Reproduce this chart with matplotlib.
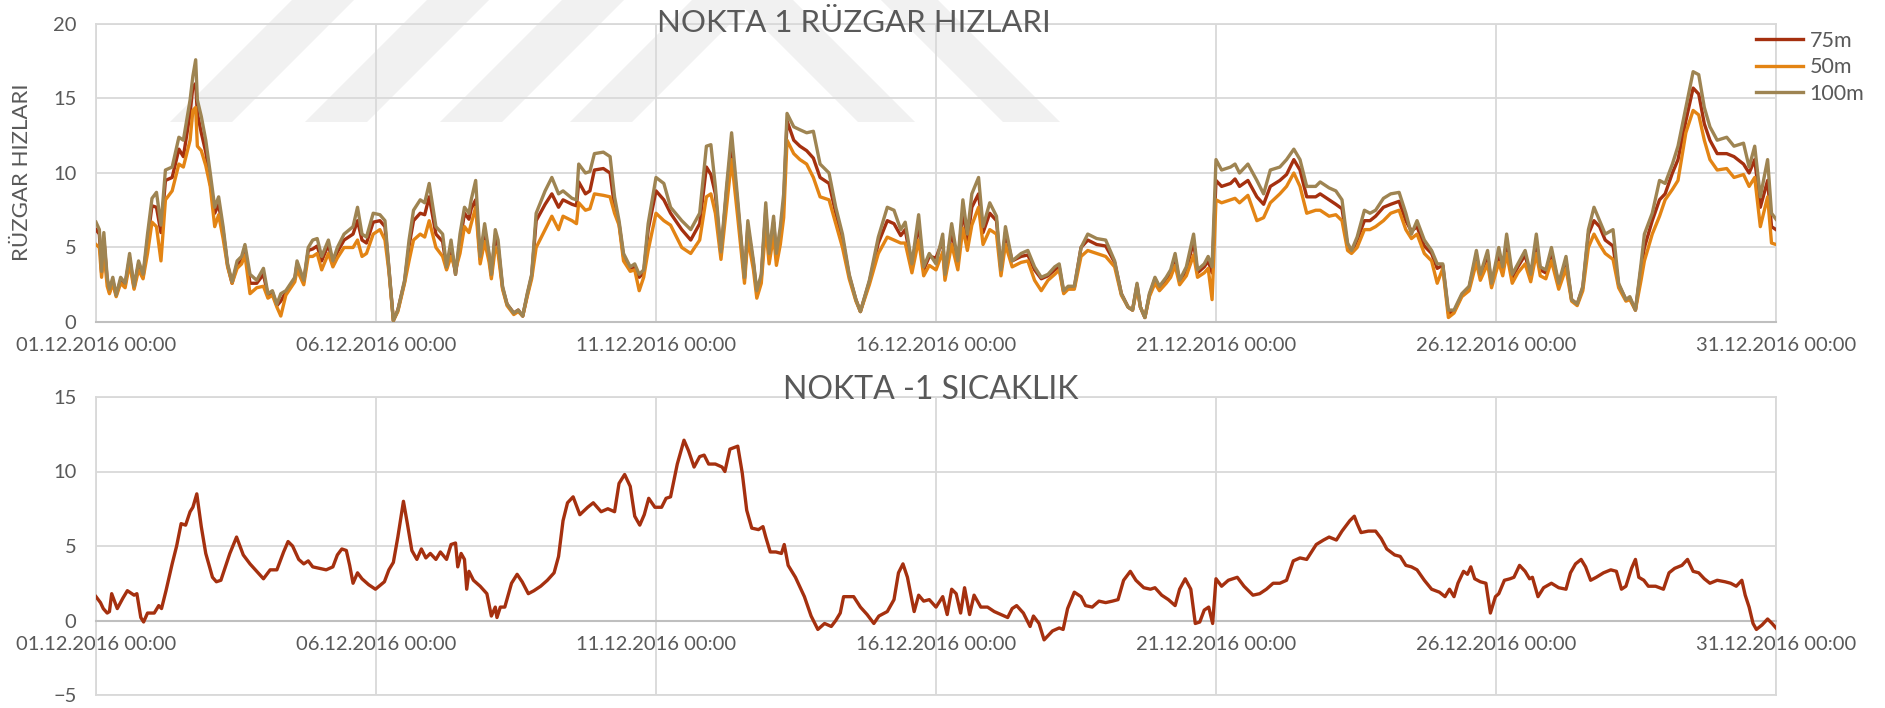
import matplotlib
matplotlib.use("Agg")
import matplotlib.pyplot as plt
from matplotlib.patches import Polygon

# ---------------- data ----------------
date_labels = ["01.12.2016 00:00", "06.12.2016 00:00", "11.12.2016 00:00",
               "16.12.2016 00:00", "21.12.2016 00:00", "26.12.2016 00:00",
               "31.12.2016 00:00"]
date_ticks = [0, 5, 10, 15, 20, 25, 30]   # days after 01.12.2016 00:00

series_names = ["75m", "50m", "100m"]

# time in days after 01.12.2016 00:00
wind_t = [0.00, 0.06, 0.10, 0.14, 0.20, 0.24, 0.30, 0.36, 0.44, 0.52, 0.60, 0.68, 0.76, 0.84, 0.92,
          1.00, 1.08, 1.16, 1.24, 1.36, 1.48, 1.56, 1.68, 1.73, 1.78, 1.81, 1.88, 1.96, 2.04, 2.12,
          2.19, 2.27, 2.35, 2.43, 2.52, 2.60, 2.66, 2.75, 2.87, 2.99, 3.07, 3.15, 3.23, 3.30, 3.39,
          3.55, 3.59, 3.71, 3.79, 3.87, 3.95, 4.03, 4.15, 4.23, 4.31, 4.43, 4.59, 4.67, 4.75, 4.83,
          4.95, 5.07, 5.16, 5.23, 5.31, 5.39, 5.51, 5.59, 5.67, 5.79, 5.87, 5.95, 6.07, 6.19, 6.26,
          6.34, 6.42, 6.50, 6.58, 6.66, 6.70, 6.78, 6.86, 6.94, 7.02, 7.06, 7.13, 7.18, 7.26, 7.34,
          7.46, 7.54, 7.62, 7.70, 7.78, 7.86, 8.02, 8.14, 8.26, 8.34, 8.50, 8.58, 8.62, 8.74, 8.82,
          8.90, 9.06, 9.18, 9.26, 9.34, 9.42, 9.54, 9.62, 9.70, 9.78, 9.86, 10.00, 10.14, 10.26, 10.46,
          10.62, 10.78, 10.90, 10.98, 11.06, 11.16, 11.26, 11.35, 11.46, 11.58, 11.64, 11.74, 11.80, 11.88, 11.96,
          12.02, 12.10, 12.15, 12.22, 12.28, 12.34, 12.46, 12.57, 12.69, 12.81, 12.93, 13.09, 13.21, 13.33, 13.45,
          13.57, 13.65, 13.81, 13.97, 14.13, 14.25, 14.37, 14.45, 14.57, 14.69, 14.78, 14.88, 15.00, 15.12, 15.16,
          15.28, 15.39, 15.48, 15.56, 15.64, 15.76, 15.84, 15.96, 16.08, 16.16, 16.24, 16.36, 16.52, 16.64, 16.76,
          16.88, 17.00, 17.12, 17.20, 17.28, 17.36, 17.47, 17.59, 17.71, 17.87, 18.03, 18.19, 18.31, 18.43, 18.51,
          18.59, 18.65, 18.73, 18.81, 18.91, 18.99, 19.11, 19.19, 19.27, 19.35, 19.47, 19.60, 19.67, 19.79, 19.86,
          19.93, 20.00, 20.10, 20.26, 20.34, 20.42, 20.57, 20.73, 20.85, 20.97, 21.14, 21.26, 21.39, 21.50, 21.62,
          21.78, 21.86, 22.02, 22.14, 22.25, 22.35, 22.42, 22.52, 22.65, 22.75, 22.85, 22.99, 23.12, 23.27, 23.39,
          23.49, 23.59, 23.72, 23.85, 23.95, 24.05, 24.15, 24.25, 24.39, 24.52, 24.65, 24.72, 24.85, 24.92, 25.05,
          25.12, 25.19, 25.29, 25.39, 25.52, 25.62, 25.72, 25.79, 25.89, 25.99, 26.12, 26.25, 26.35, 26.45, 26.55,
          26.65, 26.75, 26.85, 26.95, 27.09, 27.19, 27.32, 27.39, 27.49, 27.59, 27.65, 27.79, 27.92, 28.02, 28.15,
          28.25, 28.39, 28.52, 28.62, 28.72, 28.82, 28.95, 29.12, 29.25, 29.42, 29.52, 29.62, 29.72, 29.85, 29.92,
          30.00]

wind_100 = [6.7, 6.2, 3.4, 6.0, 3.0, 2.2, 3.0, 1.8, 3.0, 2.6, 4.6, 2.4, 4.1, 3.2, 5.9,
            8.3, 8.7, 6.5, 10.2, 10.4, 12.4, 12.2, 14.9, 16.5, 17.6, 14.9, 13.8, 12.2, 10.0, 7.7,
            8.4, 6.4, 3.9, 2.7, 4.1, 4.4, 5.2, 3.2, 2.8, 3.6, 1.9, 2.1, 1.2, 1.9, 2.1,
            3.0, 4.1, 2.8, 5.0, 5.5, 5.6, 4.4, 5.5, 4.1, 5.0, 5.9, 6.4, 7.7, 5.9, 5.7,
            7.3, 7.2, 6.8, 3.7, 0.1, 0.8, 2.8, 5.5, 7.5, 8.2, 8.0, 9.3, 6.4, 5.9, 3.7,
            5.5, 3.2, 5.9, 7.7, 7.3, 8.2, 9.5, 4.4, 6.6, 4.6, 3.2, 6.2, 5.5, 2.4, 1.2,
            0.6, 0.8, 0.4, 1.9, 3.2, 7.3, 8.8, 9.7, 8.6, 8.8, 8.3, 8.2, 10.6, 10.0, 10.1,
            11.3, 11.4, 11.1, 8.4, 6.8, 4.6, 3.7, 3.9, 3.2, 3.5, 6.6, 9.7, 9.3, 7.7, 6.8,
            6.2, 7.3, 11.8, 11.9, 9.1, 4.7, 9.1, 12.7, 8.2, 3.0, 6.8, 4.1, 2.1, 3.2, 8.0,
            4.6, 7.1, 4.6, 6.4, 8.6, 14.0, 13.1, 12.9, 12.7, 12.8, 10.6, 10.0, 7.7, 5.9, 3.2,
            1.5, 0.7, 2.8, 5.7, 7.7, 7.5, 6.2, 6.7, 3.9, 7.2, 3.7, 4.6, 3.9, 5.9, 3.2,
            6.6, 4.1, 8.2, 5.9, 8.6, 9.7, 6.4, 8.0, 7.1, 3.5, 6.4, 4.1, 4.6, 4.8, 3.7,
            3.0, 3.2, 3.7, 3.9, 2.1, 2.4, 2.4, 5.0, 5.9, 5.6, 5.5, 4.1, 1.9, 1.0, 0.8,
            2.6, 1.0, 0.3, 1.9, 3.0, 2.4, 3.0, 3.5, 4.6, 2.8, 3.7, 5.9, 3.5, 3.9, 4.4,
            3.7, 10.9, 10.2, 10.4, 10.6, 10.0, 10.6, 9.5, 8.6, 10.2, 10.4, 10.9, 11.6, 10.9, 9.1,
            9.1, 9.4, 9.0, 8.8, 8.2, 5.3, 4.8, 5.7, 7.5, 7.3, 7.5, 8.3, 8.6, 8.7, 7.3,
            5.9, 6.8, 5.5, 4.8, 3.9, 3.9, 0.8, 0.8, 1.9, 2.4, 4.8, 3.2, 4.8, 2.6, 5.0,
            3.7, 5.9, 3.2, 3.9, 4.8, 3.2, 5.9, 3.7, 3.5, 5.0, 2.6, 4.4, 1.5, 1.2, 2.4,
            6.2, 7.7, 6.8, 5.9, 6.2, 2.6, 1.5, 1.7, 0.8, 3.9, 5.9, 7.3, 9.5, 9.3, 10.6,
            11.8, 14.4, 16.8, 16.6, 14.4, 13.1, 12.2, 12.4, 11.8, 12.0, 10.4, 11.8, 8.4, 10.9, 7.3,
            6.9]

wind_75 = [6.2, 5.9, 3.3, 5.6, 2.8, 2.0, 2.8, 1.8, 2.8, 2.5, 4.3, 2.3, 3.9, 3.0, 5.5,
           7.8, 7.7, 6.0, 9.5, 9.7, 11.6, 11.1, 14.0, 15.8, 16.0, 14.0, 12.7, 11.4, 9.3, 7.3,
           7.9, 6.1, 3.8, 2.6, 3.9, 4.1, 4.9, 2.6, 2.6, 3.2, 1.8, 2.0, 1.1, 1.4, 2.0,
           2.9, 3.9, 2.7, 4.8, 4.9, 5.1, 4.1, 5.2, 3.9, 4.7, 5.5, 5.9, 6.8, 5.5, 5.3,
           6.7, 6.8, 6.4, 3.6, 0.1, 0.8, 2.7, 5.1, 6.8, 7.3, 7.2, 8.4, 5.9, 5.4, 3.6,
           5.1, 3.2, 5.4, 7.3, 6.9, 7.6, 8.2, 4.2, 6.2, 4.4, 3.1, 5.8, 5.1, 2.3, 1.2,
           0.6, 0.8, 0.4, 1.8, 3.1, 6.8, 7.9, 8.6, 7.7, 8.2, 7.9, 7.8, 9.4, 8.6, 8.8,
           10.2, 10.3, 10.0, 7.7, 6.6, 4.4, 3.6, 3.7, 3.0, 3.3, 6.2, 8.8, 8.2, 7.3, 6.2,
           5.5, 6.6, 10.4, 9.9, 8.6, 4.5, 8.8, 12.0, 7.8, 2.9, 6.4, 3.9, 2.0, 3.0, 7.5,
           4.4, 6.7, 4.4, 6.0, 8.0, 13.5, 12.2, 11.8, 11.5, 11.0, 9.7, 9.3, 7.3, 5.6, 3.1,
           1.5, 0.7, 2.7, 5.3, 6.8, 6.6, 5.8, 6.2, 3.7, 6.6, 3.5, 4.4, 4.3, 5.5, 3.1,
           6.1, 3.9, 7.5, 5.5, 7.7, 8.6, 6.0, 7.3, 6.8, 3.4, 6.0, 4.1, 4.4, 4.5, 3.5,
           2.9, 3.1, 3.5, 3.7, 2.0, 2.3, 2.3, 5.0, 5.5, 5.2, 5.1, 4.0, 1.9, 1.0, 0.8,
           2.5, 1.0, 0.3, 1.8, 2.9, 2.3, 2.9, 3.3, 4.3, 2.7, 3.5, 5.4, 3.3, 3.7, 4.1,
           3.3, 9.5, 9.1, 9.3, 9.6, 9.1, 9.5, 8.4, 7.9, 9.1, 9.5, 9.9, 10.9, 10.2, 8.4,
           8.4, 8.6, 8.2, 7.9, 7.6, 5.1, 4.7, 5.5, 6.8, 6.8, 7.1, 7.7, 7.9, 8.1, 6.8,
           6.1, 6.4, 5.1, 4.6, 3.6, 3.8, 0.6, 0.7, 1.8, 2.3, 4.5, 3.1, 4.5, 2.5, 4.6,
           3.5, 5.4, 3.0, 3.7, 4.5, 3.0, 5.4, 3.5, 3.3, 4.7, 2.5, 4.1, 1.5, 1.2, 2.3,
           5.9, 6.8, 6.4, 5.5, 5.1, 2.5, 1.5, 1.6, 0.8, 3.6, 5.0, 6.8, 8.2, 8.6, 10.0,
           10.9, 13.5, 15.7, 15.3, 13.3, 12.2, 11.3, 11.3, 11.1, 10.6, 10.0, 10.9, 7.7, 9.5, 6.4,
           6.2]

wind_50 = [5.2, 5.0, 3.0, 4.8, 2.4, 1.9, 2.6, 1.7, 2.6, 2.3, 3.9, 2.2, 3.5, 2.9, 4.6,
           6.7, 6.4, 4.1, 8.2, 8.8, 10.6, 10.4, 12.2, 14.2, 14.4, 11.8, 11.5, 10.5, 9.1, 6.4,
           7.2, 5.6, 3.7, 2.6, 3.6, 3.9, 4.5, 1.9, 2.3, 2.4, 1.6, 1.8, 1.0, 0.4, 1.8,
           2.7, 3.5, 2.5, 4.4, 4.4, 4.6, 3.5, 4.6, 3.7, 4.3, 5.0, 5.0, 5.5, 4.4, 4.6,
           5.9, 6.2, 5.5, 3.4, 0.1, 0.7, 2.6, 4.1, 5.5, 5.9, 5.7, 6.8, 5.0, 4.4, 3.5,
           4.4, 3.5, 4.6, 6.4, 6.0, 6.6, 7.7, 3.9, 5.4, 4.0, 2.9, 5.0, 4.6, 2.2, 1.1,
           0.5, 0.7, 0.4, 1.7, 2.9, 5.0, 6.2, 7.1, 6.2, 7.1, 6.8, 6.6, 8.0, 7.5, 7.6,
           8.6, 8.5, 8.4, 7.3, 6.5, 4.1, 3.4, 3.5, 2.1, 3.0, 4.8, 7.3, 6.8, 6.5, 5.0,
           4.6, 5.5, 8.4, 8.6, 7.3, 4.2, 7.7, 10.9, 7.0, 2.6, 5.6, 3.5, 1.6, 2.6, 6.4,
           3.9, 5.8, 3.8, 5.2, 7.0, 12.2, 11.3, 10.9, 10.6, 9.7, 8.4, 8.2, 6.6, 5.0, 2.9,
           1.4, 0.7, 2.5, 4.6, 5.7, 5.5, 5.3, 5.3, 3.3, 5.5, 3.1, 3.8, 3.5, 4.7, 2.8,
           5.2, 3.5, 6.3, 4.8, 6.5, 7.7, 5.2, 6.2, 5.9, 3.1, 5.2, 3.7, 4.0, 4.1, 2.8,
           2.1, 2.8, 3.2, 3.5, 1.9, 2.2, 2.2, 4.4, 4.8, 4.6, 4.4, 3.7, 1.8, 1.0, 0.8,
           2.3, 1.0, 0.3, 1.7, 2.6, 2.1, 2.6, 3.0, 3.8, 2.5, 3.1, 4.5, 3.0, 3.3, 3.6,
           1.5, 8.2, 8.0, 8.2, 8.3, 8.0, 8.5, 6.8, 7.0, 8.0, 8.6, 9.1, 10.0, 9.1, 7.3,
           7.5, 7.5, 7.1, 7.2, 6.8, 4.8, 4.6, 5.0, 6.2, 6.2, 6.4, 6.8, 7.3, 7.5, 6.2,
           5.6, 5.9, 4.6, 4.1, 2.6, 3.6, 0.3, 0.6, 1.7, 2.1, 4.0, 2.8, 3.9, 2.3, 4.0,
           3.1, 4.6, 2.6, 3.3, 3.9, 2.7, 4.6, 3.1, 2.9, 4.1, 2.2, 3.6, 1.4, 1.1, 2.1,
           5.0, 5.9, 5.2, 4.6, 4.2, 2.3, 1.4, 1.5, 0.8, 2.8, 4.1, 5.9, 7.1, 8.2, 8.9,
           9.5, 12.7, 14.2, 13.9, 12.2, 10.9, 10.2, 10.3, 9.7, 9.9, 9.1, 9.7, 6.4, 8.4, 5.3,
           5.2]

temp_t = [0.00, 0.08, 0.13, 0.20, 0.24, 0.28, 0.33, 0.38, 0.48, 0.56, 0.64, 0.68, 0.73, 0.80, 0.85,
          0.92, 1.04, 1.12, 1.17, 1.25, 1.36, 1.44, 1.52, 1.60, 1.68, 1.73, 1.80, 1.88, 1.96, 2.08,
          2.15, 2.23, 2.31, 2.39, 2.51, 2.63, 2.75, 2.87, 2.99, 3.11, 3.23, 3.35, 3.43, 3.51, 3.62,
          3.71, 3.79, 3.87, 3.99, 4.11, 4.23, 4.31, 4.39, 4.47, 4.53, 4.59, 4.67, 4.75, 4.87, 4.99,
          5.15, 5.23, 5.31, 5.39, 5.49, 5.56, 5.64, 5.73, 5.81, 5.89, 5.97, 6.07, 6.15, 6.26, 6.34,
          6.42, 6.46, 6.52, 6.58, 6.62, 6.66, 6.74, 6.86, 6.98, 7.06, 7.13, 7.16, 7.22, 7.30, 7.42,
          7.52, 7.61, 7.72, 7.82, 7.94, 8.06, 8.18, 8.26, 8.34, 8.42, 8.52, 8.64, 8.78, 8.88, 9.02,
          9.14, 9.26, 9.34, 9.44, 9.54, 9.62, 9.71, 9.79, 9.87, 9.98, 10.10, 10.18, 10.26, 10.38, 10.50,
          10.58, 10.68, 10.78, 10.86, 10.94, 11.06, 11.18, 11.23, 11.32, 11.46, 11.54, 11.62, 11.71, 11.83, 11.91,
          11.96, 12.04, 12.14, 12.24, 12.29, 12.36, 12.49, 12.65, 12.77, 12.89, 13.01, 13.13, 13.21, 13.29, 13.35,
          13.45, 13.53, 13.65, 13.77, 13.89, 13.98, 14.13, 14.25, 14.33, 14.41, 14.49, 14.61, 14.69, 14.78, 14.88,
          15.00, 15.12, 15.20, 15.28, 15.36, 15.44, 15.51, 15.60, 15.68, 15.80, 15.92, 16.04, 16.16, 16.28, 16.36,
          16.44, 16.56, 16.68, 16.74, 16.84, 16.93, 17.08, 17.20, 17.27, 17.35, 17.47, 17.59, 17.67, 17.79, 17.91,
          18.03, 18.15, 18.25, 18.35, 18.47, 18.57, 18.71, 18.83, 18.91, 19.03, 19.15, 19.27, 19.35, 19.45, 19.55,
          19.63, 19.71, 19.79, 19.87, 19.94, 20.00, 20.10, 20.22, 20.38, 20.50, 20.66, 20.78, 20.90, 21.02, 21.14,
          21.26, 21.38, 21.50, 21.62, 21.79, 21.92, 22.02, 22.15, 22.25, 22.39, 22.47, 22.52, 22.59, 22.72, 22.85,
          22.95, 23.05, 23.19, 23.29, 23.39, 23.49, 23.59, 23.72, 23.85, 23.99, 24.09, 24.17, 24.25, 24.32, 24.42,
          24.49, 24.55, 24.62, 24.72, 24.82, 24.90, 24.99, 25.05, 25.15, 25.25, 25.32, 25.42, 25.52, 25.60, 25.65,
          25.75, 25.85, 25.99, 26.12, 26.25, 26.33, 26.42, 26.52, 26.60, 26.69, 26.79, 26.92, 27.05, 27.15, 27.24,
          27.32, 27.42, 27.49, 27.55, 27.64, 27.72, 27.85, 27.99, 28.09, 28.19, 28.32, 28.42, 28.52, 28.62, 28.72,
          28.82, 28.95, 29.09, 29.19, 29.29, 29.39, 29.45, 29.52, 29.59, 29.65, 29.75, 29.85, 29.93, 30.00]

temp_v = [1.6, 1.2, 0.8, 0.5, 0.6, 1.8, 1.3, 0.8, 1.5, 2.0, 1.8, 1.7, 1.8, 0.2, -0.1,
          0.5, 0.5, 1.0, 0.8, 2.0, 3.8, 5.0, 6.5, 6.4, 7.3, 7.6, 8.5, 6.3, 4.5, 2.9,
          2.6, 2.7, 3.6, 4.5, 5.6, 4.4, 3.8, 3.3, 2.8, 3.4, 3.4, 4.6, 5.3, 5.0, 4.1,
          3.8, 4.0, 3.6, 3.5, 3.4, 3.6, 4.4, 4.8, 4.7, 3.7, 2.5, 3.2, 2.8, 2.4, 2.1,
          2.6, 3.4, 3.9, 5.6, 8.0, 6.5, 4.7, 4.1, 4.8, 4.2, 4.5, 4.1, 4.6, 4.1, 5.1,
          5.2, 3.6, 4.5, 4.1, 2.1, 3.3, 2.7, 2.3, 1.8, 0.3, 0.9, 0.2, 0.9, 0.9, 2.5,
          3.1, 2.6, 1.8, 2.0, 2.3, 2.7, 3.2, 4.3, 6.7, 7.9, 8.3, 7.1, 7.6, 7.9, 7.3,
          7.5, 7.3, 9.2, 9.8, 9.0, 7.0, 6.4, 7.1, 8.2, 7.6, 7.6, 8.2, 8.3, 10.5, 12.1,
          11.4, 10.3, 11.0, 11.1, 10.5, 10.5, 10.3, 10.0, 11.5, 11.7, 9.9, 7.4, 6.2, 6.1, 6.3,
          5.6, 4.6, 4.6, 4.5, 5.1, 3.7, 2.9, 1.6, 0.3, -0.6, -0.2, -0.4, 0.0, 0.5, 1.6,
          1.6, 1.6, 0.9, 0.4, -0.2, 0.3, 0.6, 1.4, 3.2, 3.8, 2.9, 0.6, 1.7, 1.3, 1.4,
          0.9, 1.6, 0.4, 2.1, 1.8, 0.5, 2.2, 0.4, 1.7, 0.9, 0.9, 0.6, 0.4, 0.2, 0.8,
          1.0, 0.5, -0.4, 0.3, -0.2, -1.3, -0.7, -0.5, -0.6, 0.8, 1.9, 1.6, 1.0, 0.9, 1.3,
          1.2, 1.3, 1.4, 2.7, 3.3, 2.7, 2.2, 2.1, 2.2, 1.7, 1.4, 1.0, 2.1, 2.8, 2.1,
          -0.2, -0.1, 0.7, 0.9, -0.2, 2.8, 2.3, 2.7, 2.9, 2.3, 1.7, 1.8, 2.1, 2.5, 2.5,
          2.7, 4.0, 4.2, 4.1, 5.1, 5.4, 5.6, 5.4, 6.0, 6.7, 7.0, 6.5, 5.9, 6.0, 6.0,
          5.5, 4.8, 4.4, 4.3, 3.7, 3.6, 3.4, 2.7, 2.1, 1.9, 1.6, 2.1, 1.6, 2.5, 3.3,
          3.1, 3.6, 2.8, 2.6, 2.5, 0.5, 1.6, 1.8, 2.7, 2.8, 2.9, 3.7, 3.3, 2.8, 2.9,
          1.6, 2.2, 2.5, 2.2, 2.1, 3.2, 3.8, 4.1, 3.6, 2.7, 2.9, 3.2, 3.4, 3.3, 2.1,
          2.3, 3.5, 4.1, 2.9, 2.7, 2.3, 2.3, 2.1, 3.2, 3.5, 3.7, 4.1, 3.3, 3.2, 2.8,
          2.5, 2.7, 2.6, 2.5, 2.3, 2.7, 1.7, 0.9, -0.2, -0.6, -0.3, 0.1, -0.2, -0.5]

wind_title = "NOKTA 1 RÜZGAR HIZLARI"
wind_ylabel = "RÜZGAR HIZLARI"
temp_title = "NOKTA -1 SICAKLIK"

# ---------------- style ----------------
FONT = ["Lato", "DejaVu Sans"]
plt.rcParams["font.family"] = FONT
TXT = "#595959"
GRID = "#d9d9d9"
C75, C50, C100 = "#A5300F", "#E38414", "#9E8452"

W, H = 1885, 708
fig = plt.figure(figsize=(W / 100, H / 100), dpi=100)

# background watermark (pixel coordinates)
bg = fig.add_axes([0, 0, 1, 1], zorder=-5)
bg.set_xlim(0, W)
bg.set_ylim(H, 0)
bg.axis("off")
WM = "#f1f1f1"
for xl in [170, 305, 440, 570]:
    bg.add_patch(Polygon([(xl, 122), (xl + 62, 122), (xl + 62 + 140, -18), (xl + 140, -18)],
                         closed=True, fc=WM, ec="none"))
for xr in [915, 1060]:
    bg.add_patch(Polygon([(xr, 122), (xr - 57, 122), (xr - 57 - 140, -18), (xr - 140, -18)],
                         closed=True, fc=WM, ec="none"))


def px_axes(x0, y0, x1, y1):
    return [x0 / W, 1 - y1 / H, (x1 - x0) / W, (y1 - y0) / H]


def style(ax, ymin, ymax):
    ax.set_facecolor("none")
    ax.set_xlim(0, 30)
    ax.set_ylim(ymin, ymax)
    ax.set_xticks(date_ticks)
    ax.set_xticklabels(date_labels)
    ax.set_yticks(list(range(ymin, ymax + 1, 5)))
    ax.grid(True, color=GRID, lw=1.3, zorder=0)
    ax.set_axisbelow(True)
    for s in ["left", "right", "top"]:
        ax.spines[s].set_color(GRID)
        ax.spines[s].set_linewidth(1.3)
    ax.spines["bottom"].set_color("#bfbfbf")
    ax.spines["bottom"].set_linewidth(1.5)
    ax.tick_params(axis="both", length=0, colors=TXT, labelsize=14.5)
    ax.tick_params(axis="x", pad=11)
    ax.tick_params(axis="y", pad=14)


# ---------------- top: wind ----------------
ax1 = fig.add_axes(px_axes(96, 24, 1776, 322))
style(ax1, 0, 20)
l75, = ax1.plot(wind_t, wind_75, color=C75, lw=2.4, solid_joinstyle="round", zorder=3)
l50, = ax1.plot(wind_t, wind_50, color=C50, lw=2.4, solid_joinstyle="round", zorder=3)
l100, = ax1.plot(wind_t, wind_100, color=C100, lw=2.4, solid_joinstyle="round", zorder=4)
fig.text(854 / W, 1 - 23 / H, wind_title, ha="center", va="center", fontsize=22.5, color=TXT)
fig.text(22 / W, 1 - 172 / H, wind_ylabel, ha="center", va="center", rotation=90,
         fontsize=16, color=TXT)
leg = fig.legend([l75, l50, l100], series_names, loc="upper left",
                 bbox_to_anchor=(1747 / W, 1 - 22 / H), frameon=False, fontsize=15.5,
                 handlelength=2.2, handletextpad=0.3, labelspacing=0.3, borderaxespad=0)
for t in leg.get_texts():
    t.set_color(TXT)

# ---------------- bottom: temperature ----------------
ax2 = fig.add_axes(px_axes(96, 397, 1776, 695))
style(ax2, -5, 15)
ax2.spines["bottom"].set_position(("data", 0))
ax2.axhline(-5, color=GRID, lw=1.3, clip_on=False, zorder=0)
ax2.plot(temp_t, temp_v, color=C75, lw=2.4, solid_joinstyle="round", zorder=3)
fig.text(931 / W, 1 - 390 / H, temp_title, ha="center", va="center", fontsize=23, color=TXT)

fig.savefig("out.png", dpi=100)
